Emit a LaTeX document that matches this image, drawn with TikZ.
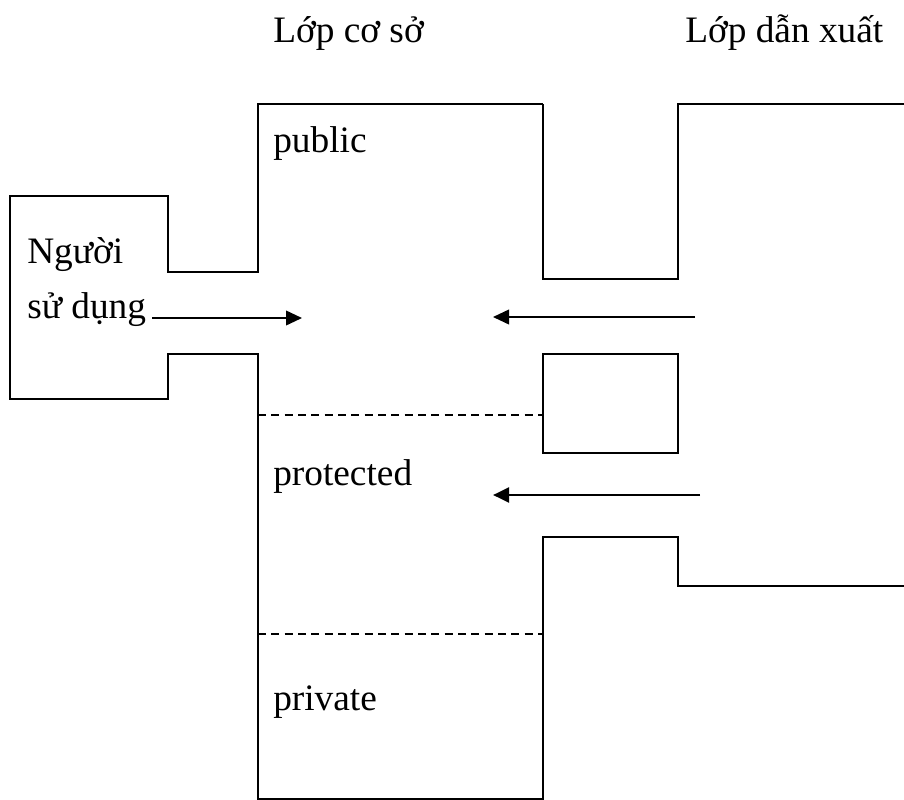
\documentclass[tikz,border=0pt]{standalone}
\usepackage{fontspec}
\setmainfont{Liberation Serif}
\usetikzlibrary{arrows.meta,positioning}
\tikzset{
  txt/.style={inner sep=0pt, anchor=base west, font=\fontsize{28}{33}\selectfont},
  wall/.style={line width=1.3pt},
  sep/.style={line width=1.2pt, dashed, dash pattern=on 6pt off 4pt},
  flow/.style={line width=1.3pt, -{Triangle[length=12pt,width=11pt]}},
}
\begin{document}
\begin{tikzpicture}[x=0.75pt,y=-0.75pt]
\useasboundingbox (0,0) rectangle (904,800);
\node (base) [txt] at (273,42) {Lớp cơ sở};
\node (derived) [txt] at (685,42) {Lớp dẫn xuất};
\node (nguoi) [txt] at (27,263) {Người};
\node (sudung) [txt] at (27,318) {sử dụng};
\node (public) [txt] at (273,152) {public};
\node (protected) [txt] at (273,485) {protected};
\node (private) [txt] at (273,710) {private};

% base class and user
\draw [wall](543,104)--(258,104)--(258,272)--(168,272)--(168,196)--(10,196)--(10,399)--(168,399)--(168,354)--(258,354)--(258,799)--(543,799)--(543,537)--(678,537)--(678,586)--(904,586);
\draw [wall](543,104)--(543,279)--(678,279)--(678,104)--(904,104);
\draw [wall](543,354) rectangle (678,453);
\draw [sep](258,415)--(543,415);
\draw [sep](258,634)--(543,634);

% access
\coordinate (pubin) at (302,318);
\coordinate (pubfrom) at (695,317);
\coordinate (pubto) at (493,317);
\coordinate (profrom) at (700,495);
\coordinate (proto) at (493,495);
\draw [flow]([xshift=4.5pt]sudung.base east)--(pubin);
\draw [flow](pubfrom)--(pubto);
\draw [flow, line width=2.2pt](profrom)--(proto);
\end{tikzpicture}
\end{document}
